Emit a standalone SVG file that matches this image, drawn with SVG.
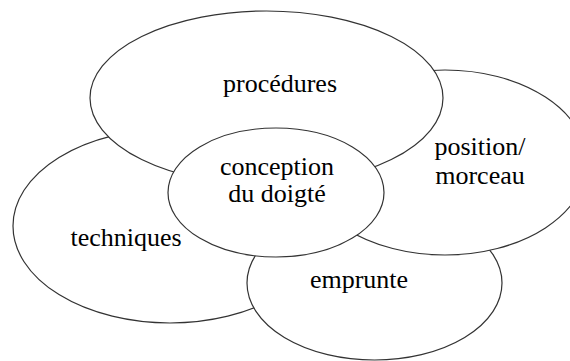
<svg xmlns="http://www.w3.org/2000/svg" width="570" height="361" viewBox="0 0 570 361" font-family="Liberation Serif, DejaVu Serif, serif">
<style>
.n{fill:#fff;stroke:#333;stroke-width:1.2}
.t{font-size:26px;fill:#000;text-anchor:middle}
</style>
<rect width="570" height="361" fill="#fff"/>
<g id="connectors"></g>
<g id="techniques">
<ellipse class="n" cx="170" cy="226" rx="157" ry="97"/>
<text class="t" x="126" y="246" font-family="Liberation Serif, DejaVu Serif, serif">techniques</text>
</g>
<g id="emprunte">
<ellipse class="n" cx="374.5" cy="283" rx="127.5" ry="77"/>
<text class="t" x="359" y="288" font-family="Liberation Serif, DejaVu Serif, serif">emprunte</text>
</g>
<g id="position">
<ellipse class="n" cx="445" cy="162.5" rx="142" ry="92.5"/>
<text class="t" x="480" y="155" font-family="Liberation Serif, DejaVu Serif, serif">position/</text>
<text class="t" x="480" y="184" font-family="Liberation Serif, DejaVu Serif, serif">morceau</text>
</g>
<g id="procedures">
<ellipse class="n" cx="266.5" cy="98" rx="176.5" ry="87"/>
<text class="t" x="280" y="92" font-family="Liberation Serif, DejaVu Serif, serif">procédures</text>
</g>
<g id="conception">
<ellipse class="n" cx="276" cy="192.5" rx="108" ry="64.5"/>
<text class="t" x="277" y="175" font-family="Liberation Serif, DejaVu Serif, serif">conception</text>
<text class="t" x="277" y="202" font-family="Liberation Serif, DejaVu Serif, serif">du doigté</text>
</g>
</svg>
